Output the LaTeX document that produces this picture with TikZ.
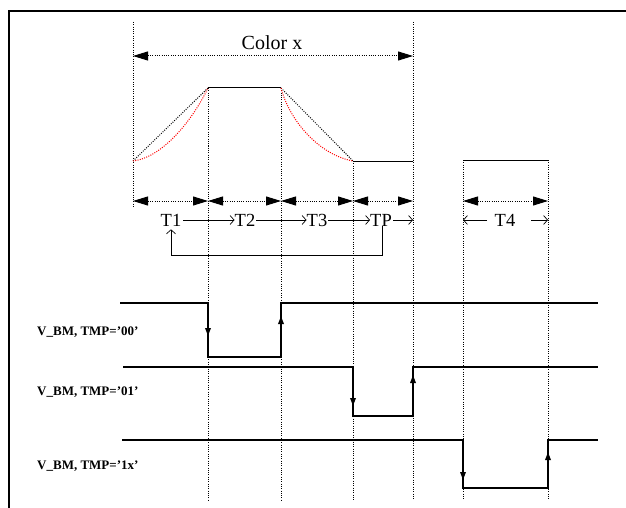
\documentclass[tikz,border=0pt]{standalone}
\usepackage{fontspec}
\setmainfont{Liberation Serif}
\usetikzlibrary{arrows.meta}
\begin{document}
\begin{tikzpicture}[x=1pt,y=-1pt,
  guide/.style={draw=black,line width=1pt,dash pattern=on 1pt off 1.3pt},
  bigarr/.style={draw=black,line width=1pt,dash pattern=on 1pt off 1.3pt,{Triangle[length=15pt,width=9pt]}-{Triangle[length=15pt,width=9pt]}},
  thinarr/.style={draw=black,line width=0.7pt,-{Straight Barb[length=4pt,width=9pt]}},
  wave/.style={draw=black,line width=1.6pt},
  edgearr/.style={draw=black,line width=1.6pt,-{Triangle[length=8pt,width=5.5pt]}},
  tlabel/.style={inner sep=0pt,font=\fontsize{18.5}{18.5}\selectfont},
  sig/.style={inner sep=0pt,anchor=west,font=\fontsize{13}{13}\selectfont\bfseries}]
\useasboundingbox (0,0) rectangle (626,508);
% frame
\draw[line width=1.5pt] (9,508) -- (9,11) -- (626,11);
% column positions
\def\xA{133}\def\xB{208}\def\xC{281}\def\xD{353}\def\xE{413}\def\xF{463}\def\xG{548}
% vertical guides
\draw[guide] (\xA,22) -- (\xA,208);
\draw[guide] (\xB,88) -- (\xB,500);
\draw[guide] (\xC,88) -- (\xC,500);
\draw[guide] (\xD,161) -- (\xD,500);
\draw[guide] (\xE,22) -- (\xE,500);
\draw[guide] (\xF,160) -- (\xF,500);
\draw[guide] (\xG,160) -- (\xG,500);
% Color x
\node[inner sep=0pt,font=\fontsize{20}{20}\selectfont] (colx) at (272,43) {Color x};
\coordinate (cl) at (\xA,56); \coordinate (cr) at (\xE,56);
\draw[bigarr] (cl) -- (cr);
% top waveform
\coordinate (p0) at (\xA,161); \coordinate (p1) at (\xB,88);
\coordinate (p2) at (\xC,88); \coordinate (p3) at (\xD,161);
\coordinate (p4) at (\xE,161);
\draw[guide] (p0) -- (p1);
\draw[guide] (p2) -- (p3);
\draw[draw=red,line width=1pt,dash pattern=on 1pt off 1.3pt] (p0) .. controls (160,158) and (190,125) .. (p1);
\draw[draw=red,line width=1pt,dash pattern=on 1pt off 1.3pt] (p2) .. controls (290,122) and (320,155) .. (p3);
\draw[line width=1pt] (p1) -- (p2);
\draw[line width=1pt] (p3) -- (p4);
\draw[line width=1pt] (\xF,160) -- (\xG,160);
% dotted interval arrows
\foreach \a/\b in {\xA/\xB,\xB/\xC,\xC/\xD,\xD/\xE,\xF/\xG}{
  \draw[bigarr] (\a,201) -- (\b,201);
}
% T labels
\node[tlabel] (t1) at (171,220) {T1};
\node[tlabel] (t2) at (245,220) {T2};
\node[tlabel] (t3) at (317,220) {T3};
\node[tlabel] (tp) at (381,220) {TP};
\node[tlabel] (t4) at (505,220) {T4};
\coordinate (tpend) at (\xE,220);
\draw[thinarr] ([xshift=2pt]t1.east) -- (t2.west);
\draw[thinarr] ([xshift=1pt]t2.east) -- (t3.west);
\draw[thinarr] ([xshift=1pt]t3.east) -- (tp.west);
\draw[thinarr] ([xshift=1pt]tp.east) -- (tpend);
\coordinate (t4l) at (\xF,220); \coordinate (t4r) at (\xG,220);
\draw[thinarr] (487,220) -- (t4l);
\draw[thinarr] (531,220) -- (t4r);
\draw[thinarr] ([xshift=1pt]tp.south) |- (171,255) -- ([yshift=-3pt]t1.south);
% signal rows
\draw[wave] (120,303) -- (\xB,303) -- (\xB,357) -- (\xC,357) -- (\xC,303) -- (598,303);
\draw[edgearr] (\xB,303) -- (\xB,336);
\draw[edgearr] (\xC,357) -- (\xC,316);
\draw[wave] (123,367) -- (\xD,367) -- (\xD,416) -- (\xE,416) -- (\xE,367) -- (598,367);
\draw[edgearr] (\xD,367) -- (\xD,406);
\draw[edgearr] (\xE,416) -- (\xE,375);
\draw[wave] (122,440) -- (\xF,440) -- (\xF,488) -- (\xG,488) -- (\xG,440) -- (598,440);
\draw[edgearr] (\xF,440) -- (\xF,480);
\draw[edgearr] (\xG,488) -- (\xG,452);
% row labels
\node[sig] (s1) at (37,332) {V\_BM, TMP=’00’};
\node[sig] (s2) at (37,392) {V\_BM, TMP=’01’};
\node[sig] (s3) at (37,466) {V\_BM, TMP=’1x’};
\end{tikzpicture}
\end{document}
